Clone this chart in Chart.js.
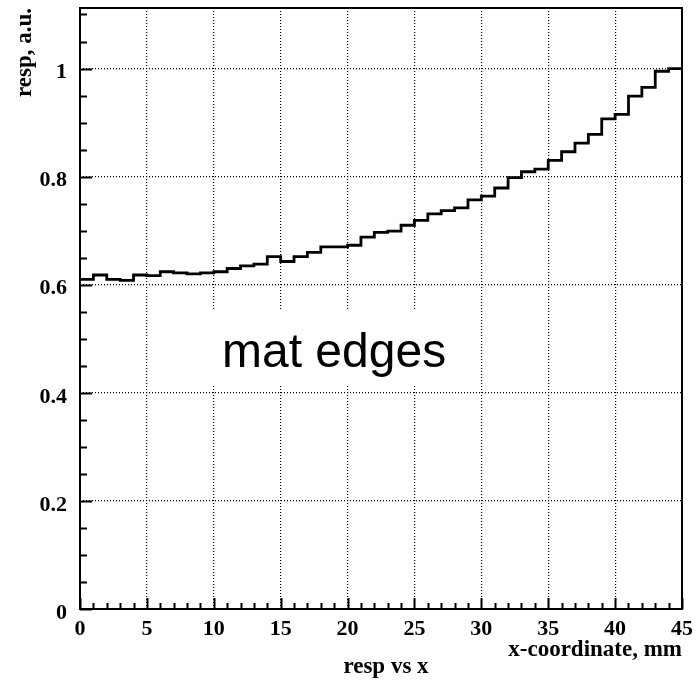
<!DOCTYPE html>
<html>
<head>
<meta charset="utf-8">
<script src="https://cdn.jsdelivr.net/npm/chart.js@4"></script>
<style>
  html, body { margin: 0; padding: 0; background: #fff; }
</style>
</head>
<body>
<canvas id="respChart" width="698" height="681"></canvas>
<script>
// response per 1 mm bin, bins 0-1 ... 44-45
const respValues = [
  0.610, 0.618, 0.610, 0.608, 0.618, 0.617, 0.624, 0.622, 0.620, 0.622,
  0.624, 0.630, 0.635, 0.638, 0.652, 0.643, 0.652, 0.660, 0.670, 0.670,
  0.673, 0.688, 0.697, 0.699, 0.710, 0.719, 0.731, 0.737, 0.742, 0.757,
  0.764, 0.779, 0.798, 0.809, 0.814, 0.830, 0.846, 0.862, 0.878, 0.907,
  0.915, 0.949, 0.965, 0.995, 1.000
];
const binWidth = 1;
const xTickLabels = [0, 5, 10, 15, 20, 25, 30, 35, 40, 45];
const yTickLabels = [0, 0.2, 0.4, 0.6, 0.8, 1];
const xRange = [0, 45];
const yRange = [0, 1.112];

// histogram outline: each bin's left edge carries its value, last point closes the final bin
const histPoints = respValues.map((v, i) => ({ x: i * binWidth, y: v }));
histPoints.push({ x: respValues.length * binWidth, y: respValues[respValues.length - 1] });

const serif = 'Liberation Serif';

const frameAndText = {
  id: 'frameAndText',
  beforeDatasetsDraw(chart) {
    const { ctx } = chart;
    ctx.save();
    ctx.fillStyle = '#fff';
    ctx.fillRect(205, 310, 265, 75);
    ctx.fillStyle = '#000';
    ctx.font = '48px "Liberation Sans"';
    ctx.textAlign = 'left';
    ctx.textBaseline = 'alphabetic';
    ctx.fillText('mat edges', 222, 367);
    ctx.restore();
  },
  afterDatasetsDraw(chart) {
    const { ctx, chartArea: a, scales: { x, y } } = chart;
    ctx.save();
    ctx.strokeStyle = '#000';
    ctx.lineWidth = 2;
    ctx.strokeRect(a.left, a.top, a.right - a.left, a.bottom - a.top);

    // ticks inside the frame, ROOT style
    ctx.beginPath();
    for (let k = 0; k <= 45; k++) {
      const px = Math.round(x.getPixelForValue(k)) + 0.5;
      const len = k % 5 === 0 ? 11 : 6;
      ctx.moveTo(px, a.bottom);
      ctx.lineTo(px, a.bottom - len);
    }
    for (let k = 0; k <= 22; k++) {
      const py = Math.round(y.getPixelForValue(k * 0.05)) + 0.5;
      const len = k % 4 === 0 ? 12 : 7;
      ctx.moveTo(a.left, py);
      ctx.lineTo(a.left + len, py);
    }
    ctx.stroke();

    // histogram title under the axis
    ctx.fillStyle = '#000';
    ctx.font = 'bold 23px "' + serif + '"';
    ctx.textAlign = 'center';
    ctx.textBaseline = 'middle';
    ctx.fillText('resp vs x', 386, 667);
    ctx.restore();
  }
};

new Chart(document.getElementById('respChart'), {
  type: 'line',
  data: {
    datasets: [{
      label: 'resp',
      data: histPoints,
      stepped: 'before',
      borderColor: '#000',
      borderWidth: 2.8,
      pointRadius: 0,
      fill: false,
      tension: 0
    }]
  },
  options: {
    responsive: false,
    animation: false,
    layout: { padding: { left: 0, right: 16, top: 8, bottom: 0 } },
    plugins: { legend: { display: false }, tooltip: { enabled: false } },
    scales: {
      x: {
        type: 'linear',
        min: xRange[0],
        max: xRange[1],
        afterBuildTicks: (scale) => { scale.ticks = xTickLabels.map(v => ({ value: v })); },
        afterFit: (scale) => {
          scale.height = 72;
          scale.paddingLeft = 0;
          scale.paddingRight = 0;
        },
        grid: {
          drawTicks: false,
          lineWidth: 1.2,
          color: (c) => (c.tick && (c.tick.value === xRange[0] || c.tick.value === xRange[1])) ? 'rgba(0,0,0,0)' : '#000'
        },
        border: { display: false, dash: [1, 2] },
        ticks: {
          autoSkip: false,
          maxRotation: 0,
          padding: 7,
          color: '#000',
          font: { family: serif, weight: 'bold', size: 22 },
          callback: (v) => String(v)
        },
        title: {
          display: true,
          text: 'x-coordinate, mm',
          align: 'end',
          color: '#000',
          font: { family: serif, weight: 'bold', size: 23 },
          padding: { top: 0, bottom: 17 }
        }
      },
      y: {
        type: 'linear',
        min: yRange[0],
        max: yRange[1],
        afterBuildTicks: (scale) => { scale.ticks = yTickLabels.map(v => ({ value: v })); },
        afterFit: (scale) => {
          scale.width = 80;
          scale.paddingTop = 0;
          scale.paddingBottom = 0;
        },
        grid: {
          drawTicks: false,
          lineWidth: 1.2,
          color: (c) => (c.tick && c.tick.value === yRange[0]) ? 'rgba(0,0,0,0)' : '#000'
        },
        border: { display: false, dash: [1, 2] },
        ticks: {
          padding: 13,
          labelOffset: 4,
          color: '#000',
          font: { family: serif, weight: 'bold', size: 22 },
          callback: (v) => String(v)
        },
        title: {
          display: true,
          text: 'resp, a.u.',
          align: 'end',
          color: '#000',
          font: { family: serif, weight: 'bold', size: 23 },
          padding: { top: 11, bottom: 0 }
        }
      }
    }
  },
  plugins: [frameAndText]
});
</script>
</body>
</html>
